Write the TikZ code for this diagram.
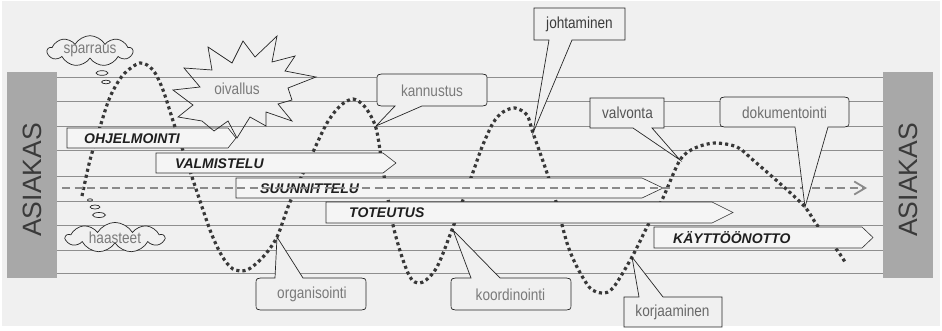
\documentclass[tikz,border=0pt]{standalone}
\usepackage{fontspec}
\setmainfont{Liberation Sans}
\newfontfamily\narrowfont[FakeStretch=0.85]{Liberation Sans}
\usetikzlibrary{arrows.meta,shapes.symbols}

\definecolor{panel}{HTML}{F0F0F0}
\definecolor{rulegray}{HTML}{8E8E8E}
\definecolor{sidegray}{HTML}{A8A8A8}
\definecolor{sidetextgray}{HTML}{3A3A3A}
\definecolor{wavegray}{HTML}{383838}
\definecolor{flowgray}{HTML}{8A8A8A}
\definecolor{labelgray}{HTML}{7A7A7A}
\definecolor{labeldark}{HTML}{3C3C3C}
\definecolor{labelmid}{HTML}{555555}
\definecolor{phasefill}{HTML}{F5F5F5}

\tikzset{
  rule/.style={draw=rulegray, line width=0.9pt},
  wave/.style={draw=wavegray, line width=3.2pt, line cap=butt, dash pattern=on 3.1pt off 3.1pt},
  phase/.style={draw=black!80, line width=0.6pt, fill=phasefill},
  phasetext/.style={anchor=west, inner sep=0pt, text=black!88,
    font=\fontsize{14}{16}\selectfont\bfseries\itshape},
  flow/.style={draw=flowgray, line width=1.8pt, dash pattern=on 8pt off 4.5pt,
    -{Straight Barb[length=11pt,width=13pt]}},
  callout/.style={draw=black!85, line width=0.7pt, fill=panel},
  calltext/.style={inner sep=0pt, text=labelgray, font=\narrowfont\fontsize{16}{18}\selectfont},
  thought/.style={draw=black!85, line width=0.7pt, fill=panel, cloud, cloud puffs=9,
    cloud puff arc=120, cloud ignores aspect, inner sep=0pt,
    text=labelgray, font=\narrowfont\fontsize{16}{18}\selectfont},
  bubble/.style={draw=black!85, line width=0.7pt},
  burst/.style={draw=black!85, line width=0.7pt},
  side/.style={fill=sidegray},
  sidetext/.style={inner sep=0pt, text=sidetextgray, rotate=90,
    font=\fontsize{26.5}{28}\selectfont}
}

\begin{document}
\begin{tikzpicture}[x=1pt,y=-1pt]
\useasboundingbox (0,0) rectangle (942,330);
\fill[white] (0,0) rectangle (942,330);
\fill[panel] (2,1) rectangle (940,326);

% horizontal guide lines
\foreach \yy in {77,101,126,150,176,201,225,250,273}
  \draw[rule] (57,\yy) -- (883,\yy);

% the dotted wave running through the phases
\draw[wave] plot[smooth, tension=0.5] coordinates {
  (82,196) (90,160) (100,127) (110,97) (123,75) (140,63) (153,70) (163,90)
  (175,127) (192,177) (210,230) (222,256) (233,269) (247,270) (263,257)
  (277,237) (290,202) (313,152) (327,123) (340,106) (353,99) (365,107)
  (376,128) (383,170) (393,225) (403,260) (412,280) (423,282) (437,267)
  (453,227) (472,175) (482,147) (493,123) (503,112) (515,108) (527,115)
  (533,133) (545,167) (555,198) (567,243) (577,267) (590,288) (602,293)
  (613,288) (632,257) (648,225) (662,200) (680,160) (695,148) (715,143)
  (737,147) (753,160) (785,188) (805,207) (817,225) (837,250) (845,262)};

% phase arrows
\draw[phase] (67,128) -- (228,128) -- (236,138) -- (228,148) -- (67,148) -- cycle;
\node[phasetext] (ohj) at (84,138.5) {OHJELMOINTI};
\draw[phase] (156,153) -- (383,153) -- (396,163) -- (383,173) -- (156,173) -- cycle;
\node[phasetext] (val) at (175,163.5) {VALMISTELU};
\draw[phase] (236,178) -- (642,178) -- (663,188) -- (642,198) -- (236,198) -- cycle;
\node[phasetext] (suu) at (260,188.5) {SUUNNITTELU};
\draw[phase] (326,202) -- (712,202) -- (733,212.5) -- (712,223) -- (326,223) -- cycle;
\node[phasetext] (tot) at (349,213) {TOTEUTUS};
\draw[phase] (654,227) -- (862,227) -- (873,237.5) -- (862,248) -- (654,248) -- cycle;
\node[phasetext] (kay) at (673,238) {KÄYTTÖÖNOTTO};

% customer flow arrow
\coordinate (flowstart) at (62,188);
\coordinate (flowend) at (867,188);
\draw[flow] (flowstart) -- (flowend);

% callouts with pointers onto the wave
\coordinate (tipJ) at (533,133);
\draw[callout] (534,8) -- (625,8) -- (625,40) -- (572,40) -- (tipJ) -- (549,40) -- (534,40) -- cycle;
\node[calltext, text=labeldark] (johtaminen) at (579.5,24.5) {johtaminen};

\coordinate (tipV) at (680,160);
\draw[callout] (590,98) -- (664,98) -- (664,128) -- (652,128) -- (tipV) -- (633,128) -- (590,128) -- cycle;
\node[calltext, text=labelmid] (valvonta) at (627.5,113) {valvonta};

\coordinate (tipR) at (632,257);
\draw[callout] (624,297) -- (639,297) -- (tipR) -- (663,297) -- (722,297) -- (722,327) -- (624,327) -- cycle;
\node[calltext, text=labelgray!85!black] (korjaaminen) at (672.5,312.5) {korjaaminen};

\coordinate (tipK) at (376,126);
\draw[callout] (387,74) -- (477,74) .. controls (487,74) .. (487,80) -- (487,100)
  .. controls (487,106) .. (477,106) -- (422,106) -- (tipK) -- (395,106) -- (387,106)
  .. controls (377,106) .. (377,100) -- (377,80) .. controls (377,74) .. (387,74) -- cycle;
\node[calltext] (kannustus) at (432,91) {kannustus};

\coordinate (tipD) at (805,207);
\draw[callout] (730,97) -- (839,97) .. controls (849,97) .. (849,103) -- (849,121)
  .. controls (849,127) .. (839,127) -- (828,127) -- (tipD) -- (795,127) -- (730,127)
  .. controls (720,127) .. (720,121) -- (720,103) .. controls (720,97) .. (730,97) -- cycle;
\node[calltext, text=labelgray!90!black] (dokumentointi) at (784.5,112.5) {dokumentointi};

\coordinate (tipO) at (277,237);
\draw[callout] (266,278) -- (275,278) -- (tipO) -- (303,278) -- (356,278)
  .. controls (366,278) .. (366,284) -- (366,304) .. controls (366,310) .. (356,310)
  -- (266,310) .. controls (256,310) .. (256,304) -- (256,284)
  .. controls (256,278) .. (266,278) -- cycle;
\node[calltext] (organisointi) at (312,294.5) {organisointi};

\coordinate (tipC) at (453,230);
\draw[callout] (461,278) -- (471,278) -- (tipC) -- (500,278) -- (561,278)
  .. controls (571,278) .. (571,284) -- (571,304) .. controls (571,310) .. (561,310)
  -- (461,310) .. controls (451,310) .. (451,304) -- (451,284)
  .. controls (451,278) .. (461,278) -- cycle;
\node[calltext] (koordinointi) at (510.5,294.5) {koordinointi};

% insight burst
\draw[burst] (208,47) -- (232,63) -- (243,41) -- (255,57) -- (277,36) -- (272,62)
  -- (295,56) -- (285,71) -- (316,77) -- (288,88) -- (292,100) -- (278,104)
  -- (292,121) -- (266,112) -- (266,126) -- (250,117) -- (237,138) -- (228,121)
  -- (214,131) -- (202,121) -- (178,117) -- (193,105) -- (173,90) -- (200,87)
  -- (184,68) -- (212,70) -- cycle;
\node[calltext] (oivallus) at (237,89) {oivallus};

% thought clouds
\node[thought, minimum width=85pt, minimum height=25pt] (sparraus) at (90,51) {sparraus};
\draw[bubble] (102,73) ellipse [x radius=6pt, y radius=2.3pt];
\draw[bubble] (106,82) ellipse [x radius=4.5pt, y radius=1.8pt];

\node[thought, minimum width=98pt, minimum height=29pt] (haasteet) at (115,237.5) {haasteet};
\draw[bubble] (90,200) ellipse [x radius=2.5pt, y radius=1.2pt];
\draw[bubble] (95,207) ellipse [x radius=5pt, y radius=2pt];
\draw[bubble] (99,215) ellipse [x radius=6.5pt, y radius=2.5pt];

% customer bars on both ends
\fill[side] (7,72) rectangle (57,278);
\node[sidetext] (asiakasL) at (32,180) {ASIAKAS};
\fill[side] (883,72) rectangle (933,278);
\node[sidetext] (asiakasR) at (908,180) {ASIAKAS};
\end{tikzpicture}
\end{document}
